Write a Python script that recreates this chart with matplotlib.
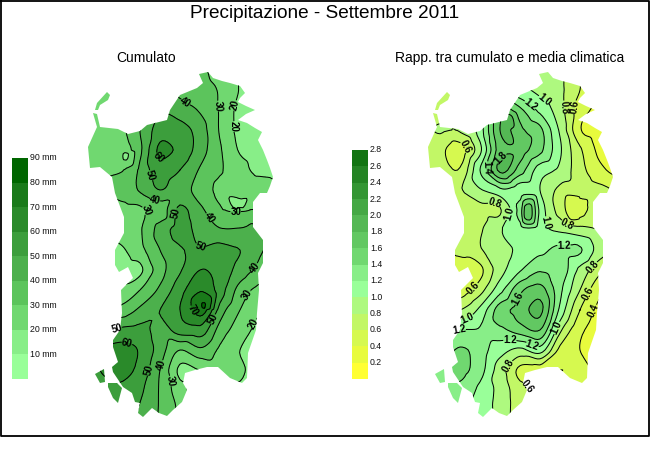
import numpy as np
import matplotlib
matplotlib.use("Agg")
import matplotlib.pyplot as plt
import matplotlib.tri as mtri
from matplotlib.path import Path
from matplotlib.patches import PathPatch

plt.rcParams['font.family'] = ['Liberation Sans', 'DejaVu Sans']

# sample grid, picture pixels of the left map
grid_x = [80, 100, 120, 140, 160, 180, 200, 220, 240, 260, 280]
grid_y = [70, 90, 110, 130, 150, 170, 190, 210, 230, 250, 270, 290, 310, 330, 350, 370, 390, 410, 430]

# cumulated rain (mm), one row per grid_y
cum_rows = [
    [25, 25, 25, 30, 35, 38, 32, 26, 19, 16, 15],
    [25, 25, 26, 31, 35, 38, 34, 29, 19.5, 16, 15],
    [25, 25, 28, 36, 48, 44, 39, 29, 17, 15, 15],
    [26, 26, 27, 40, 55, 55, 45, 29, 17, 14, 14],
    [26, 25, 25, 38, 62, 57, 45, 31, 19, 15, 14],
    [26, 27, 29, 42, 55, 50, 39, 31, 24, 17, 14],
    [26, 31, 34, 41, 50, 44, 36, 27, 26, 28, 27],
    [22, 24, 26, 28, 34, 52, 42, 32, 28, 33, 34],
    [20, 22, 25, 29, 44, 54, 46, 41, 41, 42, 42],
    [14, 15, 18, 27, 40, 49, 51, 54, 50, 41, 36],
    [14, 14, 15, 18, 36, 49, 60, 56, 46, 37, 33],
    [16, 17, 22, 30, 42, 56, 69, 55, 36, 27, 25],
    [25, 28, 33, 42, 50, 60, 75, 46, 30, 21, 18],
    [40, 46, 52, 53, 46, 55, 56, 36, 25, 17, 15],
    [50, 60, 63, 59, 45, 30, 38, 28, 20, 15, 14],
    [50, 60, 63, 57, 40, 18, 20, 24, 22, 14, 14],
    [50, 55, 58, 52, 39, 24, 15, 15, 18, 14, 14],
    [45, 50, 55, 49, 39, 28, 20, 15, 14, 14, 14],
    [40, 45, 50, 47, 39, 28, 20, 15, 14, 14, 14],
]
# small closed features between grid nodes
cum_extra_x = [125, 238, 203]
cum_extra_y = [156, 207, 307]
cum_extra_z = [18, 18, 81]

# ratio to the climate mean
rat_rows = [
    [.7, .7, .7, .8, .9, 1.0, .95, .85, .6, .5, .5],
    [.7, .7, .7, .85, .95, 1.05, .95, .85, .6, .4, .4],
    [.7, .7, .75, .9, 1.65, 1.45, 1.15, .88, .5, .35, .35],
    [.75, .82, .82, 1.1, 1.8, 1.65, 1.45, .97, .42, .3, .3],
    [.7, .65, .5, .95, 1.7, 1.7, 1.45, 1.03, .63, .35, .3],
    [.7, .7, .62, 1.2, 1.85, 1.5, 1.1, .95, .68, .45, .3],
    [.7, .72, .78, .98, 1.15, 1.1, 1.0, .75, .7, .65, .55],
    [.6, .68, .7, .73, .78, 1.3, 1.15, .72, .5, .68, .65],
    [.6, .65, .72, .78, .98, 1.1, 1.08, .97, .88, .8, .75],
    [.55, .55, .65, .78, .9, 1.05, 1.15, 1.25, 1.22, .9, .75],
    [.5, .5, .5, .55, .92, 1.18, 1.38, 1.33, .95, .65, .55],
    [.5, .5, .5, .72, 1.13, 1.55, 1.68, 1.25, .8, .45, .4],
    [.6, .7, .8, 1.05, 1.5, 1.68, 1.85, 1.15, .6, .35, .3],
    [1.0, 1.1, 1.2, 1.22, 1.35, 1.5, 1.6, .85, .45, .3, .25],
    [1.2, 1.3, 1.42, 1.3, 1.08, .95, 1.1, .55, .4, .3, .25],
    [1.3, 1.35, 1.45, 1.28, .9, .55, .5, .6, .52, .3, .25],
    [1.25, 1.3, 1.35, 1.15, .93, .68, .55, .55, .5, .3, .25],
    [1.2, 1.25, 1.25, 1.12, .92, .7, .55, .5, .45, .3, .25],
    [1.2, 1.2, 1.2, 1.1, .9, .7, .55, .5, .45, .3, .25],
]
rat_extra_x = [187, 238, 168]
rat_extra_y = [213, 209, 120]
rat_extra_z = [1.75, .42, 1.92]

cum_levels = [0, 10, 20, 30, 40, 50, 60, 70, 80, 90]
cum_colors = ['#99ff99', '#88ee88', '#70d870', '#5cc45c', '#4cb04c',
              '#3c9e3c', '#2a8a2a', '#1a7a1a', '#006600']
rat_levels = [0, .2, .4, .6, .8, 1.0, 1.2, 1.4, 1.6, 1.8, 2.0, 2.2, 2.4, 2.6, 2.8]
rat_colors = ['#ffff33', '#e8fb3d', '#d6f94f', '#c2f766', '#aef97f', '#99ff99', '#88ee88',
              '#70d870', '#62c862', '#54b854', '#44a844', '#349634', '#248424', '#127412']

# coast of the island, same pixels
main_coast = [(199, 74), (208, 72), (213, 78), (222, 81), (230, 83), (240, 86), (245, 93), (240, 98), (238, 102),
              (246, 106), (255, 110), (246, 114), (238, 120), (247, 123), (255, 128), (262, 132), (258, 140),
              (263, 150), (267, 160), (270, 168), (273, 177), (270, 186), (267, 193),
              (260, 193), (253, 202), (253, 227), (263, 240), (263, 263), (258, 273), (259, 290),
              (257, 313), (256, 330), (248, 353), (247, 378), (242, 383), (230, 378), (218, 367),
              (207, 367), (195, 370), (185, 373), (183, 383), (187, 390), (182, 402), (173, 410),
              (167, 416), (159, 413), (152, 408), (143, 417), (138, 413), (140, 403), (135, 402),
              (132, 393), (123, 387), (113, 372), (112, 367), (118, 362), (113, 347), (113, 340),
              (120, 330), (122, 313), (121, 290), (133, 278), (128, 267), (119, 272), (115, 265),
              (115, 250), (124, 233), (124, 217), (115, 193), (112, 177), (100, 167), (90, 168),
              (88, 147), (97, 127), (93, 113), (97, 114), (100, 127), (118, 129), (128, 134), (140, 131),
              (147, 125), (167, 120), (170, 110), (180, 95), (197, 88), (203, 83)]
asinara = [(95, 110), (97, 103), (107, 92), (110, 95), (108, 100), (100, 105), (98, 110)]
san_pietro = [(95, 374), (104, 369), (105, 382), (100, 383)]
sant_antioco = [(108, 383), (117, 383), (122, 388), (118, 403), (113, 398), (108, 387)]
coast_parts = [main_coast, asinara, san_pietro, sant_antioco]

# contour label spots (near which line)
cum_labels = [(184, 104), (218, 106), (233, 105), (250, 128), (160, 156), (148, 176), (155, 198),
              (150, 207), (175, 213), (206, 220), (236, 217), (200, 248), (252, 265), (251, 297),
              (250, 322), (189, 313), (215, 320), (117, 329), (127, 343), (147, 370), (160, 365),
              (168, 381)]
rat_labels = [(127, 146), (190, 105), (203, 102), (227, 107), (235, 107), (160, 157), (148, 168),
              (155, 201), (172, 215), (209, 223), (227, 224), (224, 246), (132, 287), (127, 317),
              (120, 333), (175, 297), (170, 336), (191, 348), (217, 328), (247, 293), (252, 266),
              (252, 310), (168, 366), (185, 390)]


def coast_path(dx):
    verts, codes = [], []
    for part in coast_parts:
        verts += [(x + dx, y) for x, y in part] + [part[0]]
        codes += [Path.MOVETO] + [Path.LINETO] * (len(part) - 1) + [Path.CLOSEPOLY]
    return Path(verts, codes)


def draw_map(ax, rows, ex, ey, ez, levels, colors, labels, dx, fmt):
    gx, gy = np.meshgrid(grid_x, grid_y)
    x = np.concatenate([gx.ravel() + dx, np.array(ex) + dx])
    y = np.concatenate([gy.ravel(), ey])
    z = np.concatenate([np.array(rows, dtype=float).ravel(), ez])

    tri = mtri.Triangulation(x, y)
    interp = mtri.CubicTriInterpolator(tri, z, kind='geom')
    fine_tri, fine_z = mtri.UniformTriRefiner(tri).refine_field(z, triinterpolator=interp, subdiv=3)

    clip = PathPatch(coast_path(dx), transform=ax.transData, fc='none', ec='none')
    ax.add_patch(clip)
    fills = ax.tricontourf(fine_tri, fine_z, levels=levels, colors=colors)
    fills.set_clip_path(clip)
    lines = ax.tricontour(fine_tri, fine_z, levels=levels[1:-1], colors='black',
                          linewidths=0.72, antialiased=True)
    lines.set_clip_path(clip)
    spots = [(px + dx, py) for px, py in labels]
    texts = lines.clabel(manual=spots, fmt=fmt, fontsize=7, inline=True, inline_spacing=0)
    for t in texts:
        t.set_fontweight('bold')


def draw_legend(ax, levels, colors, x0, top, bottom, fmt):
    step = (bottom - top) / len(colors)
    edges = bottom - step * np.arange(len(colors))
    ax.bar(x0, [-step] * len(colors), bottom=edges, width=16, align='edge',
           color=colors, linewidth=0)
    for lev, e in zip(levels[1:], edges - step):
        ax.text(x0 + 18, e, fmt % lev, fontsize=6.3, va='center', ha='left', color='#111111')


fig = plt.figure(figsize=(6.5, 4.5), dpi=100)
ax = fig.add_axes([0, 0, 1, 1])
ax.set_xlim(0, 650)
ax.set_ylim(450, 0)
ax.axis('off')

draw_map(ax, cum_rows, cum_extra_x, cum_extra_y, cum_extra_z, cum_levels, cum_colors, cum_labels, 0, '%d')
draw_map(ax, rat_rows, rat_extra_x, rat_extra_y, rat_extra_z, rat_levels, rat_colors, rat_labels, 340, '%.1f')

draw_legend(ax, cum_levels, cum_colors, 12, 158, 379, '%d mm')
draw_legend(ax, rat_levels, rat_colors, 352, 150, 379, '%.1f')

ax.text(325, 13, 'Precipitazione - Settembre 2011', fontsize=13.7, ha='center', va='center')
ax.text(146, 58, 'Cumulato', fontsize=10, ha='center', va='center')
ax.text(510, 58, 'Rapp. tra cumulato e media climatica', fontsize=10, ha='center', va='center')

# outer frame
ax.plot([0.5, 0.5, 649, 649, 0.5], [0.5, 436, 436, 0.5, 0.5], color='black', lw=1.3, clip_on=False)

fig.savefig('out.png', dpi=100)
